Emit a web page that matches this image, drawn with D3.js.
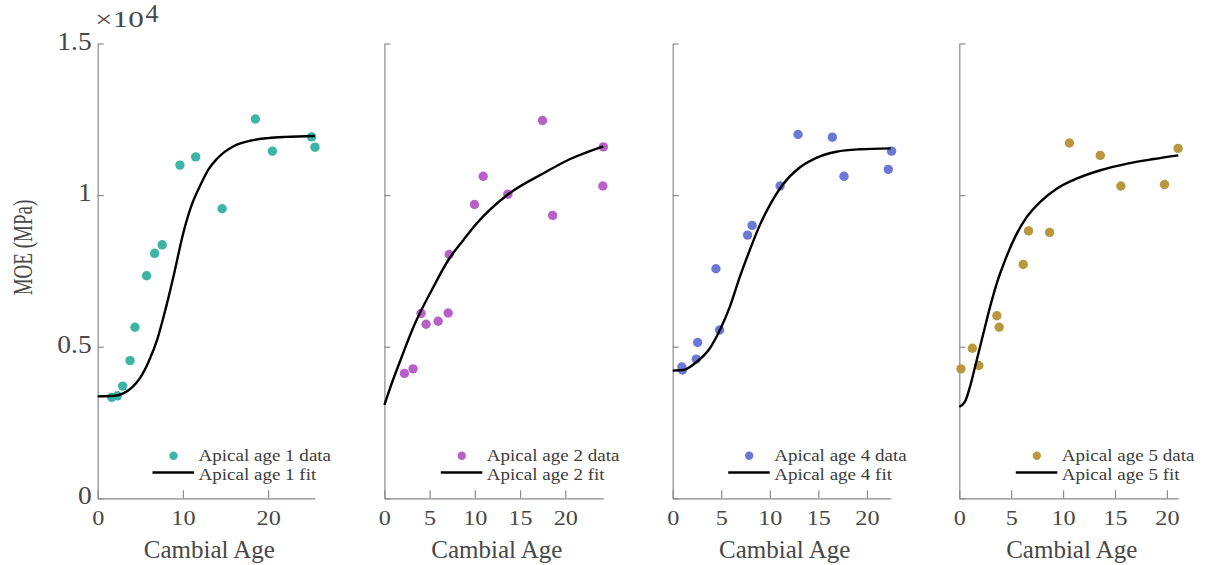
<!DOCTYPE html>
<html>
<head>
<meta charset="utf-8">
<script src="https://cdn.jsdelivr.net/npm/d3@7"></script>
<style>
  body { margin: 0; background: #ffffff; }
  svg { display: block; }
</style>
</head>
<body>
<script>
// ---- data: MOE (MPa) against cambial age, one panel per apical age ----
const seriesNames = ["Apical age 1", "Apical age 2", "Apical age 4", "Apical age 5"];
const seriesColors = ["#3db5a6", "#b860c8", "#6b78d6", "#b9973f"];

const age1Data = [[1.64,3330],[2.30,3380],[2.93,3700],[3.79,4540],[4.37,5640],[5.74,7340],[6.68,8080],[7.57,8360],[9.65,10990],[11.5,11260],[14.6,9550],[18.5,12510],[20.5,11450],[25.1,11920],[25.5,11580]];
const age1Fit  = [[0,3360],[2,3380],[3,3460],[4,3650],[5,3980],[6,4520],[7,5250],[8,6280],[9,7450],[10,8700],[11,9650],[12,10300],[13,10850],[14,11200],[16,11620],[18,11800],[20,11880],[22,11920],[25.5,11950]];

const age2Data = [[2.21,4120],[3.17,4270],[4.06,6100],[4.61,5740],[5.94,5840],[7.05,6110],[7.16,8040],[9.96,9690],[10.92,10620],[13.65,10030],[17.48,12460],[18.6,9330],[24.15,10300],[24.2,11590]];
const age2Fit  = [[0,3080],[0.55,3570],[1.92,4670],[3.39,5770],[5.24,6870],[7.16,7900],[8.74,8520],[10.22,9070],[13.65,10020],[17.59,10720],[20.54,11190],[24.2,11610]];

const age4Data = [[0.95,4330],[1.0,4230],[2.43,4590],[2.57,5140],[4.45,7570],[4.83,5550],[7.71,8680],[8.18,9000],[11.06,10300],[12.91,12000],[16.44,11910],[17.64,10620],[22.2,10850],[22.54,11450]];
const age4Fit  = [[0,4210],[1.09,4230],[2.47,4500],[3.83,4950],[4.86,5550],[5.89,6320],[6.92,7310],[7.94,8190],[8.97,9010],[10.0,9670],[11.37,10360],[13.08,10910],[14.8,11230],[16.86,11430],[19.25,11510],[22.45,11540]];

const age5Data = [[0.16,4270],[1.26,4950],[1.88,4380],[3.62,6020],[3.84,5640],[6.16,7710],[6.67,8820],[8.7,8770],[10.61,11720],[13.58,11310],[15.57,10300],[19.77,10350],[21.08,11540]];
const age5Fit  = [[0,3020],[0.55,3190],[1.03,3680],[1.52,4340],[2.0,5000],[2.48,5660],[2.97,6320],[3.61,7090],[4.42,7860],[5.39,8630],[6.51,9280],[7.8,9780],[9.42,10220],[11.35,10550],[13.6,10820],[16.19,11040],[18.76,11190],[21.1,11310]];

const panelData = [age1Data, age2Data, age4Data, age5Data];
const panelFit  = [age1Fit, age2Fit, age4Fit, age5Fit];

const xTicks = [[0,10,20],[0,5,10,15,20],[0,5,10,15,20],[0,5,10,15,20]];
const yTicks = [0, 5000, 10000, 15000];
const yTickLabels = ["0", "0.5", "1", "1.5"];
const xLabel = "Cambial Age";
const yLabel = "MOE (MPa)";

// ---- layout ----
const W = 1207, H = 565;
const plotTop = 43.5, plotBottom = 498.3;
const panelLeft  = [97.7, 384.4, 672.7, 959.3];
const panelRight = [315.0, 603.3, 890.7, 1178.3];
const axisColor = "#8a8a8a";
const textColor = "#474747";
const serif = "'Liberation Serif', 'Times New Roman', serif";

const svg = d3.select("body").append("svg")
  .attr("width", W).attr("height", H)
  .attr("font-family", serif);

const y = d3.scaleLinear().domain([0, 15000]).range([plotBottom, plotTop]);

const line = d3.line().curve(d3.curveMonotoneX);

panelData.forEach((pts, i) => {
  const fit = panelFit[i];
  const x = d3.scaleLinear()
    .domain([0, d3.max(fit, d => d[0])])
    .range([panelLeft[i], panelRight[i]]);

  const g = svg.append("g");

  // x axis, ticks pointing inward
  const gx = g.append("g")
    .attr("transform", `translate(0,${plotBottom})`)
    .call(d3.axisBottom(x).tickValues(xTicks[i]).tickSize(-8).tickSizeOuter(0).tickFormat(d3.format("d")));
  gx.select(".domain").attr("stroke", axisColor).attr("stroke-width", 1.2);
  gx.selectAll(".tick line").attr("stroke", axisColor).attr("stroke-width", 1.2);
  gx.selectAll(".tick text")
    .attr("y", 26.7).attr("dy", null)
    .attr("fill", textColor)
    .attr("font-size", 22)
    .attr("font-family", serif)
    .attr("transform", "scale(1.1,1)");

  // y axis, labels only on the first panel
  const gy = g.append("g")
    .attr("transform", `translate(${panelLeft[i]},0)`)
    .call(d3.axisLeft(y).tickValues(yTicks).tickSize(-6).tickSizeOuter(0)
      .tickFormat(i === 0 ? ((d, k) => yTickLabels[k]) : () => ""));
  gy.select(".domain").attr("stroke", axisColor).attr("stroke-width", 1.2);
  gy.selectAll(".tick line").attr("stroke", axisColor).attr("stroke-width", 1.2);
  gy.selectAll(".tick text")
    .attr("x", -5.5).attr("y", 5.6).attr("dy", null)
    .attr("fill", textColor)
    .attr("font-size", 25)
    .attr("font-family", serif)
    .attr("transform", "scale(1.1,1)");

  // x label
  g.append("text")
    .attr("x", (panelLeft[i] + panelRight[i]) / 2 + 3)
    .attr("y", 558)
    .attr("text-anchor", "middle")
    .attr("font-size", 25)
    .attr("fill", textColor)
    .text(xLabel);

  // data points
  g.append("g").selectAll("circle")
    .data(pts)
    .join("circle")
    .attr("cx", d => x(d[0]))
    .attr("cy", d => y(d[1]))
    .attr("r", 4.7)
    .attr("fill", seriesColors[i]);

  // fitted curve
  g.append("path")
    .datum(fit.map(d => [x(d[0]), y(d[1])]))
    .attr("d", line)
    .attr("fill", "none")
    .attr("stroke", "#000")
    .attr("stroke-width", 2.4);

  // legend
  const r = panelRight[i];
  const lg = g.append("g").attr("font-size", 17).attr("fill", "#3c3c3c");
  lg.append("circle").attr("cx", r - 141.5).attr("cy", 455.7).attr("r", 4.2).attr("fill", seriesColors[i]);
  lg.append("text")
    .attr("transform", `translate(${r - 116.5},460.5) scale(1.12,1)`)
    .text(seriesNames[i] + " data");
  lg.append("line").attr("x1", r - 162.5).attr("x2", r - 121).attr("y1", 472.5).attr("y2", 472.5)
    .attr("stroke", "#000").attr("stroke-width", 2.4);
  lg.append("text")
    .attr("transform", `translate(${r - 116.5},479.5) scale(1.12,1)`)
    .text(seriesNames[i] + " fit");
});

// y label, drawn condensed along its length
svg.append("text")
  .attr("transform", "translate(32,247.5) rotate(-90) scale(0.68,1)")
  .attr("text-anchor", "middle")
  .attr("font-size", 28)
  .attr("fill", textColor)
  .text(yLabel);

// axis exponent
const expo = svg.append("g").attr("fill", textColor);
expo.append("text")
  .attr("transform", "translate(95,26.7) scale(1.3,1)")
  .attr("font-size", 24)
  .text("×10");
expo.append("text")
  .attr("x", 145.5).attr("y", 21.5)
  .attr("font-size", 26)
  .text("4");
</script>
</body>
</html>
